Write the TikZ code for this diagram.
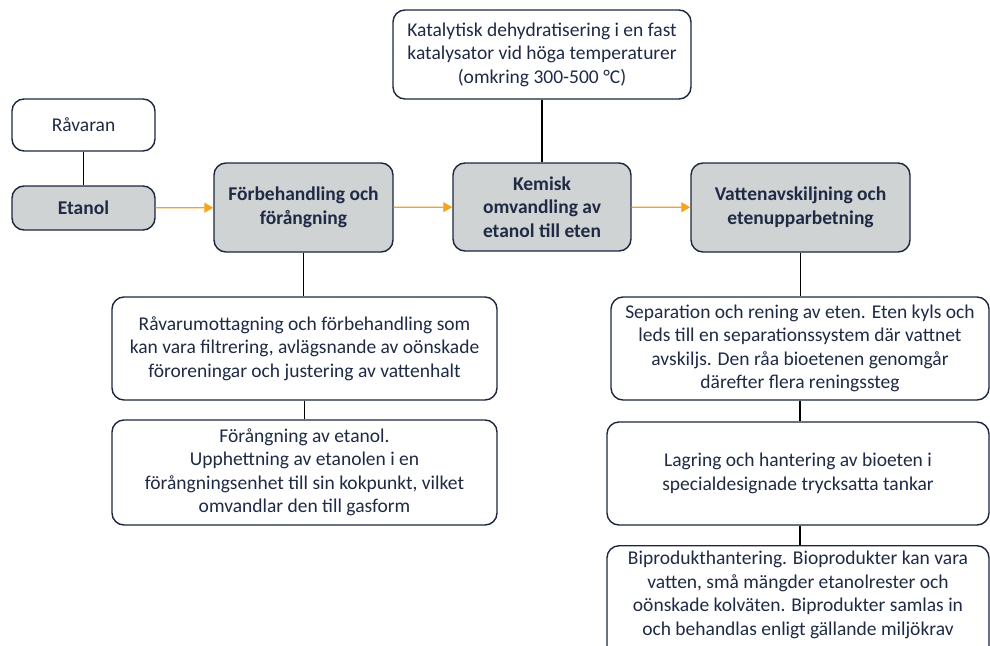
\documentclass[tikz,border=0pt]{standalone}
\usepackage{fontspec}
\setmainfont{Carlito}
\usetikzlibrary{arrows.meta}
\definecolor{inkblue}{HTML}{1F2A44}
\definecolor{boxgray}{HTML}{D0D3D4}
\definecolor{flowora}{HTML}{F7A320}
\begin{document}
\begin{tikzpicture}[x=1pt,y=-1pt,
    txtbox/.style={draw=inkblue!90!black,line width=1.4pt,rounded corners=12pt,fill=white,
      align=center,text=inkblue,inner sep=0pt,
      font=\fontsize{19.5}{23.5}\selectfont},
    stepbox/.style={txtbox,fill=boxgray,font=\fontsize{19.5}{23.5}\selectfont\bfseries},
    link/.style={black,line width=1.3pt},
    flow/.style={flowora,line width=1.3pt,-{Triangle[length=9pt,width=10pt]}}]
      \useasboundingbox (0,0) rectangle (990,645);

      % main row
      \node [txtbox,minimum width=143,minimum height=52] (rav) at (83.5,125) {Råvaran};
      \node [stepbox,minimum width=143,minimum height=44] (etanol) at (83.5,208) {Etanol};
      \node [stepbox,minimum width=179,minimum height=89] (forb) at (303.5,207.5) {Förbehandling och\\förångning};
      \node [stepbox,minimum width=178,minimum height=88] (kemisk) at (542,207) {Kemisk\\omvandling av\\etanol till eten};
      \node [stepbox,minimum width=219,minimum height=89] (vatten) at (800.5,207.5) {Vattenavskiljning och\\etenupparbetning};

      % descriptions
      \node [txtbox,minimum width=298,minimum height=89] (katal) at (542,54.5)
        {Katalytisk dehydratisering i en fast\\katalysator vid höga temperaturer\\(omkring 300-500 °C)};
      \node [txtbox,minimum width=385,minimum height=103] (ravmot) at (304.5,348.5)
        {Råvarumottagning och förbehandling som\\kan vara filtrering, avlägsnande av oönskade\\föroreningar och justering av vattenhalt};
      \node [txtbox,minimum width=385,minimum height=105] (forang) at (304.5,472.5)
        {Förångning av etanol.\\Upphettning av etanolen i en\\förångningsenhet till sin kokpunkt, vilket\\omvandlar den till gasform};
      \node [txtbox,minimum width=378,minimum height=103] (sep) at (800,348.5)
        {Separation och rening av eten. Eten kyls och\\leds till en separationssystem där vattnet\\avskiljs. Den råa bioetenen genomgår\\därefter flera reningssteg};
      \node [txtbox,minimum width=382,minimum height=103] (lagr) at (798,473.5)
        {Lagring och hantering av bioeten i\\specialdesignade trycksatta tankar};
      % runs past the lower edge
      \node [txtbox,minimum width=382,minimum height=125] (bipr) at (798,608.25)
        {Biprodukthantering. Bioprodukter kan vara\\vatten, små mängder etanolrester och\\oönskade kolväten. Biprodukter samlas in\\och behandlas enligt gällande miljökrav\\\strut};

      % connectors
      \draw [link] (rav) -- (etanol);
      \draw [link] (katal) -- (kemisk);
      \draw [link] (forb.south) -- (forb.south |- ravmot.north);
      \draw [link] (ravmot.south) -- (ravmot.south |- forang.north);
      \draw [link] (vatten.south) -- (vatten.south |- sep.north);
      \draw [link] (sep.south) -- (sep.south |- lagr.north);
      \draw [link] (sep.south |- lagr.south) -- (sep.south |- bipr.north);

      \draw [flow] (etanol) -- (forb);
      \draw [flow] (forb) -- (kemisk);
      \draw [flow] (kemisk) -- (vatten);

    \end{tikzpicture}
\end{document}
